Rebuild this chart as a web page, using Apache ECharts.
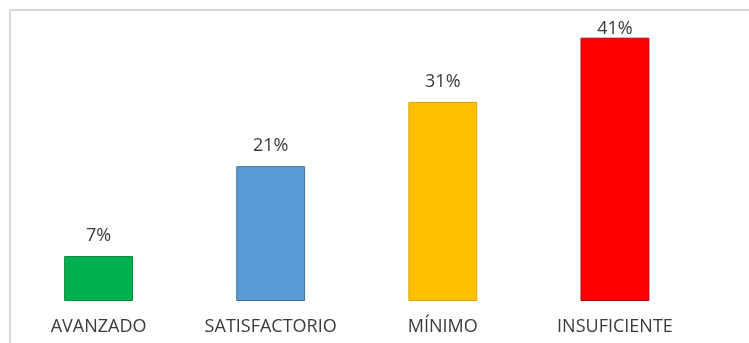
<!DOCTYPE html>
<html><head><meta charset="utf-8">
<script src="https://cdn.jsdelivr.net/npm/echarts@6/dist/echarts.min.js"></script>
<style>html,body{margin:0;padding:0;background:#fff}#c{width:749px;height:343px}</style>
</head><body><div id="c"></div>
<script>
const categories = ["AVANZADO", "SATISFACTORIO", "MÍNIMO", "INSUFICIENTE"];
const values = [7, 21, 31, 41];
const barColors = ["#00b050", "#5b9bd5", "#ffc000", "#ff0000"];
const borderColors = ["#0a8a3e", "#41719c", "#d9a300", "#c00000"];
const labelGaps = [11, 11, 11, 0];

const chart = echarts.init(document.getElementById('c'));
chart.setOption({
  animation: false,
  backgroundColor: '#fff',
  graphic: [
    {type: 'line', shape: {x1: 10, y1: 10, x2: 749, y2: 10}, style: {stroke: '#d9d9d9', lineWidth: 2}},
    {type: 'line', shape: {x1: 10, y1: 10, x2: 10, y2: 343}, style: {stroke: '#d9d9d9', lineWidth: 2}}
  ],
  grid: {left: 12.5, right: 48, top: 12, bottom: 42, containLabel: false},
  xAxis: {
    type: 'category', data: categories,
    axisLine: {show: false}, axisTick: {show: false},
    axisLabel: {color: '#3a3a3a', fontFamily: 'Open Sans', fontSize: 18, margin: 17}
  },
  yAxis: {type: 'value', min: 0, max: 45, show: false, splitLine: {show: false}},
  series: [{
    type: 'bar', barWidth: '40%',
    data: values.map((v, i) => ({value: v, itemStyle: {color: barColors[i], borderColor: borderColors[i], borderWidth: 1}, label: {distance: labelGaps[i]}})),
    label: {show: true, position: 'top', formatter: '{c}%', color: '#3a3a3a', fontFamily: 'Open Sans', fontSize: 18}
  }]
});
</script></body></html>
